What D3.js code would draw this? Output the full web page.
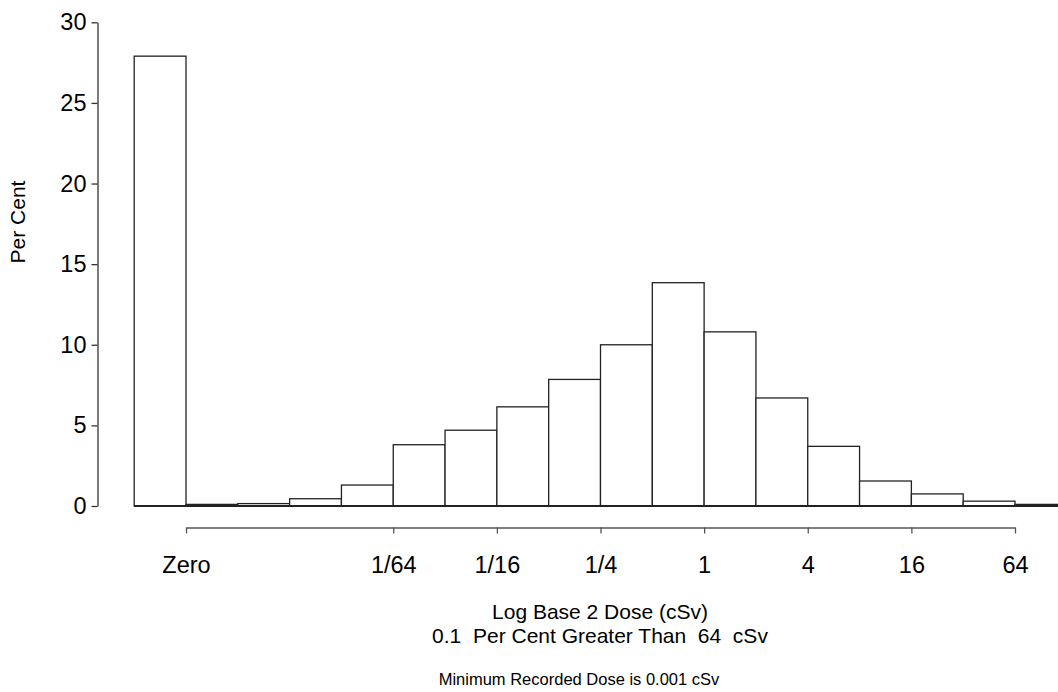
<!DOCTYPE html>
<html>
<head>
<meta charset="utf-8">
<script src="https://cdn.jsdelivr.net/npm/d3@7"></script>
<style>
  html,body{margin:0;padding:0;background:#fff;}
  svg{display:block;font-family:"Liberation Sans",Arial,sans-serif;}
  text{fill:#000;}
</style>
</head>
<body>
<svg id="chart" width="1058" height="692"></svg>
<script>
// lower edge of each bin in log2(cSv); first slot is the "Zero" dose bar
const binEdges=[-11,-10,-9,-8,-7,-6,-5,-4,-3,-2,-1,0,1,2,3,4,5,6];
const percent=[27.9,0.1,0.15,0.45,1.3,3.8,4.7,6.15,7.85,10.0,13.85,10.8,6.7,3.7,1.55,0.75,0.3,0.1];
const xTickPos=[-10,-6,-4,-2,0,2,4,6];
const xTickLabels=['Zero','1/64','1/16','1/4','1','4','16','64'];
const yTicks=[0,5,10,15,20,25,30];

const svg=d3.select('#chart');
const x=d3.scaleLinear().domain([-10,6]).range([186,1015]);
const y=d3.scaleLinear().domain([0,30]).range([506,22.3]);
const tickFont=23.5;

// bars
svg.append('g').selectAll('rect').data(percent).enter().append('rect')
  .attr('x',(d,i)=>x(binEdges[i])).attr('width',(d,i)=>x(binEdges[i]+1)-x(binEdges[i]))
  .attr('y',d=>y(d)).attr('height',d=>y(0)-y(d))
  .attr('fill','#fff').attr('stroke','#222').attr('stroke-width',1.3);
// baseline under the bars
svg.append('line').attr('x1',x(binEdges[0])).attr('x2',1058).attr('y1',y(0)).attr('y2',y(0))
  .attr('stroke','#222').attr('stroke-width',2.2);

// y axis
const yAx=svg.append('g').attr('transform','translate(97.5,0)')
  .call(d3.axisLeft(y).tickValues(yTicks).tickSize(6).tickSizeOuter(0).tickPadding(5));
yAx.selectAll('text').attr('font-size',tickFont).attr('font-family','"Liberation Sans",Arial,sans-serif');
yAx.selectAll('path,line').attr('stroke','#333').attr('stroke-width',1.3);

// x axis
const xAx=svg.append('g').attr('transform','translate(0,527.5)')
  .call(d3.axisBottom(x).tickValues(xTickPos).tickFormat((d,i)=>xTickLabels[i]).tickSize(6).tickSizeOuter(0).tickPadding(22.8));
xAx.selectAll('text').attr('font-size',tickFont).attr('font-family','"Liberation Sans",Arial,sans-serif');
xAx.selectAll('path,line').attr('stroke','#555').attr('stroke-width',1.3);

// labels
svg.append('text').attr('x',600).attr('y',619).attr('text-anchor','middle').attr('font-size',21)
  .text('Log Base 2 Dose (cSv)');
svg.append('text').attr('x',600).attr('y',643).attr('text-anchor','middle').attr('font-size',21)
  .style('white-space','pre').text('0.1  Per Cent Greater Than  64  cSv');
svg.append('text').attr('x',579).attr('y',685).attr('text-anchor','middle').attr('font-size',16.5)
  .text('Minimum Recorded Dose is 0.001 cSv');
svg.append('text').attr('transform','translate(25,222) rotate(-90)').attr('text-anchor','middle').attr('font-size',21)
  .text('Per Cent');
</script>
</body>
</html>
